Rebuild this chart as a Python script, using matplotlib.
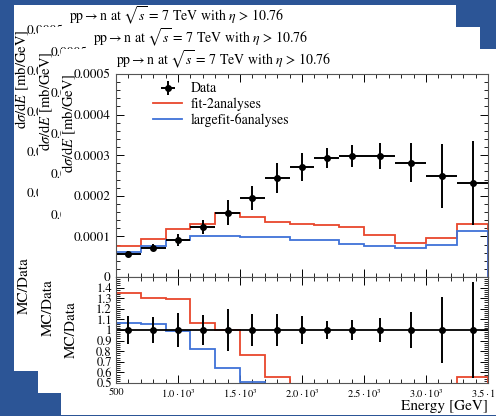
import matplotlib
matplotlib.use("Agg")
import matplotlib.pyplot as plt
from matplotlib.patches import Rectangle
from matplotlib.ticker import MultipleLocator, FixedLocator, FixedFormatter, FuncFormatter

# ---- data -----------------------------------------------------------------
bin_edges = [500, 700, 900, 1100, 1300, 1500, 1700, 1900, 2100, 2300, 2500,
             2750, 3000, 3250, 3500]
data_values = [5.7e-5, 7.2e-5, 9.1e-5, 1.23e-4, 1.58e-4, 1.95e-4, 2.44e-4,
               2.71e-4, 2.93e-4, 2.98e-4, 2.98e-4, 2.81e-4, 2.49e-4, 2.32e-4]
data_errors = [7.5e-6, 8.7e-6, 1.46e-5, 1.75e-5, 3.1e-5, 3.0e-5, 3.7e-5,
               3.5e-5, 2.5e-5, 2.8e-5, 3.3e-5, 4.8e-5, 7.8e-5, 1.04e-4]
fit2_values = [7.7e-5, 9.4e-5, 1.18e-4, 1.31e-4, 1.58e-4, 1.49e-4, 1.35e-4,
               1.30e-4, 1.28e-4, 1.23e-4, 1.03e-4, 8.4e-5, 9.6e-5, 1.30e-4]
large6_values = [6.1e-5, 7.6e-5, 9.0e-5, 1.01e-4, 1.01e-4, 9.9e-5, 9.85e-5,
                 9.1e-5, 9.1e-5, 8.1e-5, 7.6e-5, 7.1e-5, 7.9e-5, 1.13e-4]
series_labels = ["Data", "fit-2analyses", "largefit-6analyses"]
x_tick_values = [500, 1000, 1500, 2000, 2500, 3000, 3500]
x_tick_labels = ["500", r"$1.0\cdot10^3$", r"$1.5\cdot10^3$", r"$2.0\cdot10^3$",
                 r"$2.5\cdot10^3$", r"$3.0\cdot10^3$", r"$3.5\cdot10^3$"]
ratio_ticks = [0.5, 0.6, 0.7, 0.8, 0.9, 1.0, 1.1, 1.2, 1.3, 1.4]

title = r"pp$\rightarrow$n at $\sqrt{s}$ = 7 TeV with $\eta$ > 10.76"

# ---- style ----------------------------------------------------------------
plt.rcParams["font.family"] = ["STIXGeneral", "DejaVu Serif"]
plt.rcParams["mathtext.fontset"] = "stix"

RED = "#e8472c"
BLUE = "#3f72d8"
BG = "#2c5596"

W, H = 496, 416
PW, PH = 442, 366
fig = plt.figure(figsize=(W / 100, H / 100), dpi=100)
fig.patch.set_facecolor(BG)

centers = [(a + b) / 2 for a, b in zip(bin_edges[:-1], bin_edges[1:])]
halfw = [(b - a) / 2 for a, b in zip(bin_edges[:-1], bin_edges[1:])]

# axes geometry inside one page, in pixels from the page's top-left corner
LEFT, RIGHT, TOP, MID, BOT = 55, 427, 25, 228, 334
AXW = RIGHT - LEFT
YLAB_X = (17 - LEFT) / AXW   # right edge of the rotated y labels


def fbox(x0, y0, w, h):
    """pixel box (top-left origin) -> figure fraction [l, b, w, h]"""
    return [x0 / W, 1 - (y0 + h) / H, w / W, h / H]


def style_ticks(ax):
    ax.tick_params(which="both", direction="in", top=True, right=True,
                   labelsize=9.5, pad=4)
    ax.tick_params(which="major", length=6, width=0.7)
    ax.tick_params(which="minor", length=3, width=0.6)
    for s in ax.spines.values():
        s.set_linewidth(0.8)
        s.set_color("#555555")


def draw_page(px, py, z):
    fig.add_artist(Rectangle((px / W, 1 - (py + PH) / H), PW / W, PH / H,
                             transform=fig.transFigure, facecolor="white",
                             edgecolor="none", zorder=z))
    ax = fig.add_axes(fbox(px + LEFT, py + TOP, AXW, MID - TOP))
    rx = fig.add_axes(fbox(px + LEFT, py + MID, AXW, BOT - MID))
    ax.set_zorder(z + 1)
    rx.set_zorder(z + 1)

    # main panel
    ax.stairs(fit2_values, bin_edges, color=RED, lw=1.3, label=series_labels[1], zorder=2)
    ax.stairs(large6_values, bin_edges, color=BLUE, lw=1.3, label=series_labels[2], zorder=2)
    ax.errorbar(centers, data_values, yerr=data_errors, xerr=halfw,
                fmt="o", color="black", ms=4, lw=1.4, capsize=0,
                label=series_labels[0], zorder=3)
    ax.set_xlim(500, 3500)
    ax.set_ylim(0, 0.0005)
    ax.yaxis.set_major_locator(MultipleLocator(0.0001))
    ax.yaxis.set_minor_locator(MultipleLocator(0.00002))
    ax.yaxis.set_major_formatter(FuncFormatter(lambda v, p: "%g" % round(v, 6)))
    ax.xaxis.set_major_locator(FixedLocator(x_tick_values))
    ax.xaxis.set_minor_locator(MultipleLocator(100))
    style_ticks(ax)
    ax.tick_params(axis="x", labelbottom=False)
    ax.set_ylabel(r"d$\sigma$/d$E$ [mb/GeV]", fontsize=10.5, loc="top")
    ax.yaxis.set_label_coords(YLAB_X, 1.0)
    ax.set_title(title, loc="left", fontsize=10, pad=6)
    h, l = ax.get_legend_handles_labels()
    order = [l.index(s) for s in series_labels]
    ax.legend([h[i] for i in order], [l[i] for i in order], loc="upper left",
              bbox_to_anchor=(0.10, 0.96), frameon=False, fontsize=10,
              handlelength=2.1, handletextpad=0.6, labelspacing=0.15,
              borderaxespad=0, borderpad=0)

    # ratio panel
    rx.stairs([m / d for m, d in zip(fit2_values, data_values)], bin_edges,
              color=RED, lw=1.3, zorder=2)
    rx.stairs([m / d for m, d in zip(large6_values, data_values)], bin_edges,
              color=BLUE, lw=1.3, zorder=2)
    rx.axhline(1.0, color="black", lw=1.3, zorder=3)
    rx.errorbar(centers, [1.0] * len(centers),
                yerr=[e / d for e, d in zip(data_errors, data_values)],
                fmt="o", color="black", ms=4, lw=1.4, capsize=0, zorder=4)
    rx.set_xlim(500, 3500)
    rx.set_ylim(0.5, 1.5)
    rx.yaxis.set_major_locator(FixedLocator(ratio_ticks))
    rx.yaxis.set_major_formatter(FuncFormatter(lambda v, p: "%g" % round(v, 2)))
    rx.yaxis.set_minor_locator(MultipleLocator(0.02))
    rx.xaxis.set_major_locator(FixedLocator(x_tick_values))
    rx.xaxis.set_major_formatter(FixedFormatter(x_tick_labels))
    rx.xaxis.set_minor_locator(MultipleLocator(100))
    style_ticks(rx)
    rx.tick_params(axis="y", labelsize=9, pad=3)
    rx.tick_params(axis="x", labelsize=7.5, pad=3)
    rx.set_ylabel("MC/Data", fontsize=11)
    rx.yaxis.set_label_coords(YLAB_X, 0.5)
    rx.set_xlabel("Energy [GeV]", fontsize=11, loc="right", labelpad=0)
    for a in (ax, rx):
        for sp in a.spines.values():
            sp.set_zorder(5)


for k, (px, py) in enumerate([(14, 5), (38, 27), (61, 49)]):
    draw_page(px, py, 10 * (k + 1))

fig.savefig("out.png", dpi=100, facecolor=BG)
